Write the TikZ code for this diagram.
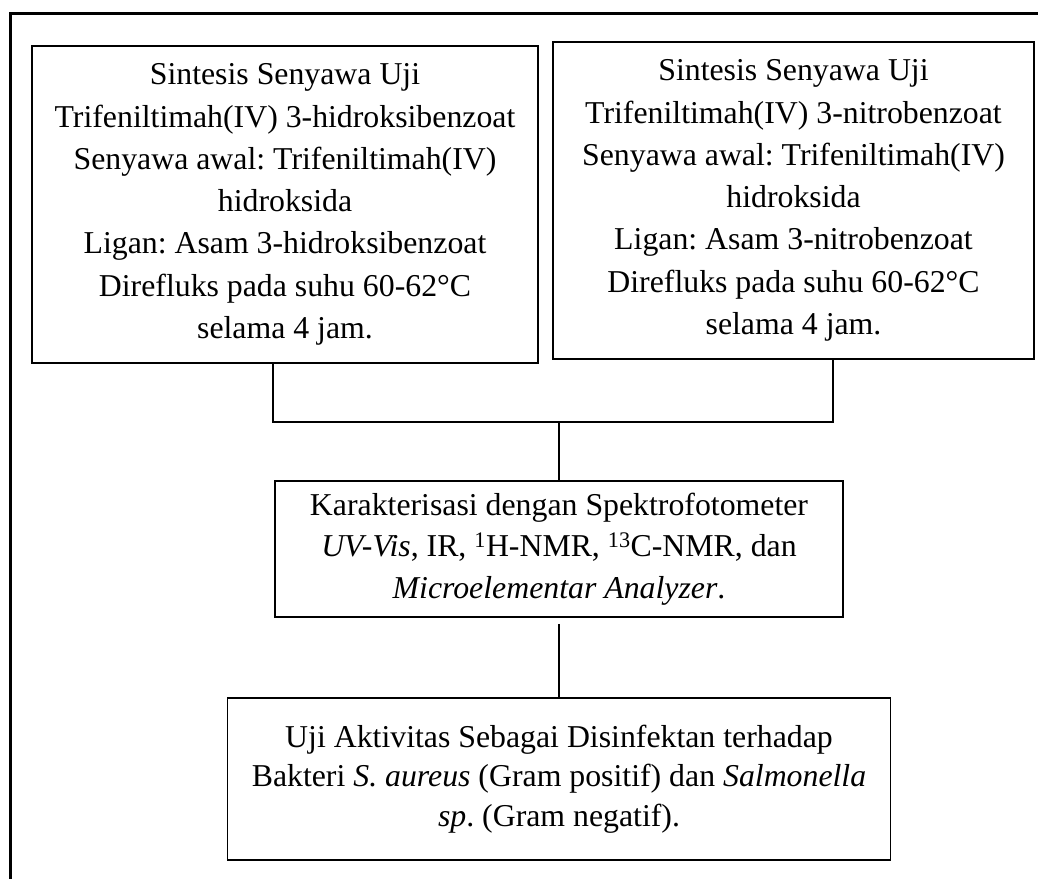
\documentclass[tikz,border=0pt]{standalone}
\usepackage{fontspec}
\setmainfont{Liberation Serif}
\usetikzlibrary{positioning}
\frenchspacing

\begin{document}
\begin{tikzpicture}[
  x=1pt, y=-1pt,
  box/.style={draw, line width=1.8pt, align=center, inner sep=0pt, font=\fontsize{31.8}{42.3}\selectfont},
  link/.style={line width=1.8pt},
  frame/.style={line width=3pt}
]
\clip (0,0) rectangle (1038,878);
\draw[frame] (10,13) rectangle (1070,910);

\node[box, minimum width=506pt, minimum height=317pt] (hidroksi) at (285,204.5)
  {Sintesis Senyawa Uji\\ Trifeniltimah(IV) 3-hidroksibenzoat\\ Senyawa awal: Trifeniltimah(IV)\\ hidroksida\\ Ligan: Asam 3-hidroksibenzoat\\ Direfluks pada suhu 60-62°C\\ selama 4 jam.};
\node[box, minimum width=481pt, minimum height=317pt] (nitro) at (793.5,200.5)
  {Sintesis Senyawa Uji\\ Trifeniltimah(IV) 3-nitrobenzoat\\ Senyawa awal: Trifeniltimah(IV)\\ hidroksida\\ Ligan: Asam 3-nitrobenzoat\\ Direfluks pada suhu 60-62°C\\ selama 4 jam.};
\node[box, minimum width=568pt, minimum height=136pt, font=\fontsize{31.8}{41.5}\selectfont] (karakter) at (559,549)
  {Karakterisasi dengan Spektrofotometer\\ \textit{UV-Vis}, IR, \textsuperscript{1}H-NMR, \textsuperscript{13}C-NMR, dan\\ \textit{Microelementar Analyzer}.};
\node[box, minimum width=663pt, minimum height=162pt, font=\fontsize{31.8}{39.5}\selectfont] (uji) at (559,779)
  {Uji Aktivitas Sebagai Disinfektan terhadap\\ Bakteri \textit{S. aureus} (Gram positif) dan \textit{Salmonella}\\ \textit{sp}. (Gram negatif).};

% bracket joining the two syntheses
\coordinate (jl) at (273,422);
\coordinate (jr) at (833,422);
\coordinate (jm) at (559,422);
\draw[link] (hidroksi.south -| jl) -- (jl) -- (jr) -- (nitro.south -| jr);
\draw[link] (jm) -- (karakter.north);
\draw[link, shorten <=6pt] (karakter.south) -- (uji.north);
\end{tikzpicture}
\end{document}
